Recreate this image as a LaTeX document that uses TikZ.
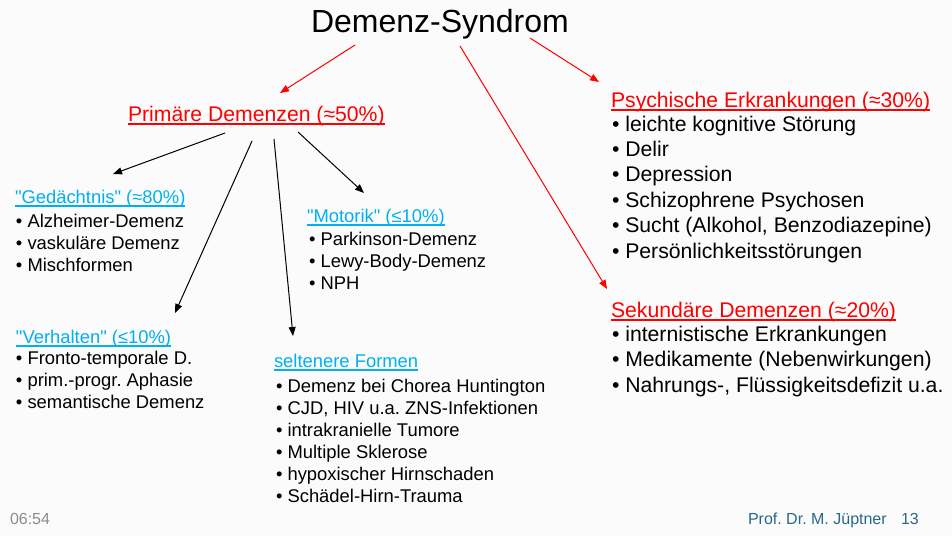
\documentclass[tikz,border=0pt]{standalone}
\usepackage{fontspec}
\setmainfont{Liberation Sans}
\usetikzlibrary{arrows.meta}
\definecolor{myred}{RGB}{255,0,0}
\definecolor{myblue}{RGB}{0,176,240}
\definecolor{footgray}{RGB}{140,140,140}
\definecolor{footteal}{RGB}{40,105,135}
\definecolor{bg}{RGB}{251,251,251}
\newcommand{\sq}{\XeTeXglyph\XeTeXcharglyph34\relax}
\frenchspacing
\tikzset{
  txt/.style={anchor=base west, inner sep=0pt, outer sep=0pt},
  redhead/.style={txt, text=myred, font=\fontsize{21.2}{25}\selectfont},
  bluehead/.style={txt, text=myblue, font=\fontsize{18.4}{22}\selectfont},
  smallitem/.style={txt, text=black, font=\fontsize{18.4}{22}\selectfont},
  bigitem/.style={txt, text=black, font=\fontsize{21.2}{25}\selectfont},
  redarrow/.style={draw=myred, line width=1pt, -{Triangle[length=9pt,width=7pt]}},
  blackarrow/.style={draw=black, line width=1pt, -{Triangle[length=9pt,width=7pt]}},
  redul/.style={draw=myred, line width=1.6pt},
  blueul/.style={draw=myblue, line width=1.4pt},
}
\begin{document}
\begin{tikzpicture}[x=1pt,y=-1pt]
\frenchspacing
\fill[bg] (0,0) rectangle (952,536);
\useasboundingbox (0,0) rectangle (952,536);

% title
\node[txt, font=\fontsize{32}{38}\selectfont] (title) at (311,32) {Demenz-Syndrom};

% red headings
\node[redhead] (prim) at (128,121) {Primäre Demenzen (≈50\%)};
\draw[redul] ([yshift=-3pt]prim.base west) -- ([yshift=-3pt]prim.base east);
\node[redhead] (psych) at (611,107) {Psychische Erkrankungen (≈30\%)};
\draw[redul] ([yshift=-3pt]psych.base west) -- ([yshift=-3pt]psych.base east);
\node[redhead] (sek) at (611,317) {Sekundäre Demenzen (≈20\%)};
\draw[redul] ([yshift=-3pt]sek.base west) -- ([yshift=-3pt]sek.base east);

% blue headings
\node[bluehead] (ged) at (15,203) {\sq Gedächtnis\sq{} (≈80\%)};
\draw[blueul] ([yshift=-3pt]ged.base west) -- ([yshift=-3pt]ged.base east);
\node[bluehead] (verh) at (16,343) {\sq Verhalten\sq{} (≤10\%)};
\draw[blueul] ([yshift=-3pt]verh.base west) -- ([yshift=-3pt]verh.base east);
\node[bluehead] (mot) at (307,222) {\sq Motorik\sq{} (≤10\%)};
\draw[blueul] ([yshift=-3pt]mot.base west) -- ([yshift=-3pt]mot.base east);
\node[bluehead] (selt) at (274,367) {seltenere Formen};
\draw[blueul] ([yshift=-3pt]selt.base west) -- ([yshift=-3pt]selt.base east);

% lists
\foreach \t [count=\i] in {Alzheimer-Demenz, vaskuläre Demenz, Mischformen}
  \node[smallitem] (g\i) at (16,{227+22*(\i-1)}) {• \t};
\foreach \t [count=\i] in {Fronto-temporale D., prim.-progr. Aphasie, semantische Demenz}
  \node[smallitem] (v\i) at (16,{364+22.2*(\i-1)}) {• \t};
\foreach \t [count=\i] in {Parkinson-Demenz, Lewy-Body-Demenz, NPH}
  \node[smallitem] (m\i) at (309,{245+22*(\i-1)}) {• \t};
\foreach \t [count=\i] in {Demenz bei Chorea Huntington, {CJD, HIV u.a. ZNS-Infektionen}, intrakranielle Tumore, Multiple Sklerose, hypoxischer Hirnschaden, Schädel-Hirn-Trauma}
  \node[smallitem] (s\i) at (276,{392+22*(\i-1)}) {• \t};
\foreach \t [count=\i] in {leichte kognitive Störung, Delir, Depression, Schizophrene Psychosen, {Sucht (Alkohol, Benzodiazepine)}, Persönlichkeitsstörungen}
  \node[bigitem] (p\i) at (612,{131+25.4*(\i-1)}) {• \t};
\foreach \t [count=\i] in {internistische Erkrankungen, Medikamente (Nebenwirkungen), {Nahrungs-, Flüssigkeitsdefizit u.a.}}
  \node[bigitem] (k\i) at (612,{341+25.5*(\i-1)}) {• \t};

% arrow end points
\coordinate (ta) at (355,45);
\coordinate (tb) at (460,46);
\coordinate (tc) at (530,38);
\coordinate (primin) at (280,93);
\coordinate (sekin) at (607,289);
\coordinate (psychin) at (599,82);
\coordinate (pa) at (225,133);
\coordinate (pb) at (252,141);
\coordinate (pc) at (274,139);
\coordinate (pd) at (298,132);
\coordinate (gedin) at (113,174);
\coordinate (verhin) at (175,313);
\coordinate (seltin) at (293,336);
\coordinate (motin) at (364,193);

\draw[redarrow] (ta) -- (primin);
\draw[redarrow] (tb) -- (sekin);
\draw[redarrow] (tc) -- (psychin);
\draw[blackarrow] (pa) -- (gedin);
\draw[blackarrow] (pb) -- (verhin);
\draw[blackarrow] (pc) -- (seltin);
\draw[blackarrow] (pd) -- (motin);

% footer
\node[txt, text=footgray, font=\fontsize{16}{19}\selectfont] (time) at (10,524) {06:54};
\node[txt, text=footteal, font=\fontsize{16}{19}\selectfont] (author) at (748,524) {Prof. Dr. M. Jüptner};
\node[txt, text=footteal, font=\fontsize{16}{19}\selectfont] (page) at (901,524) {13};
\end{tikzpicture}
\end{document}
